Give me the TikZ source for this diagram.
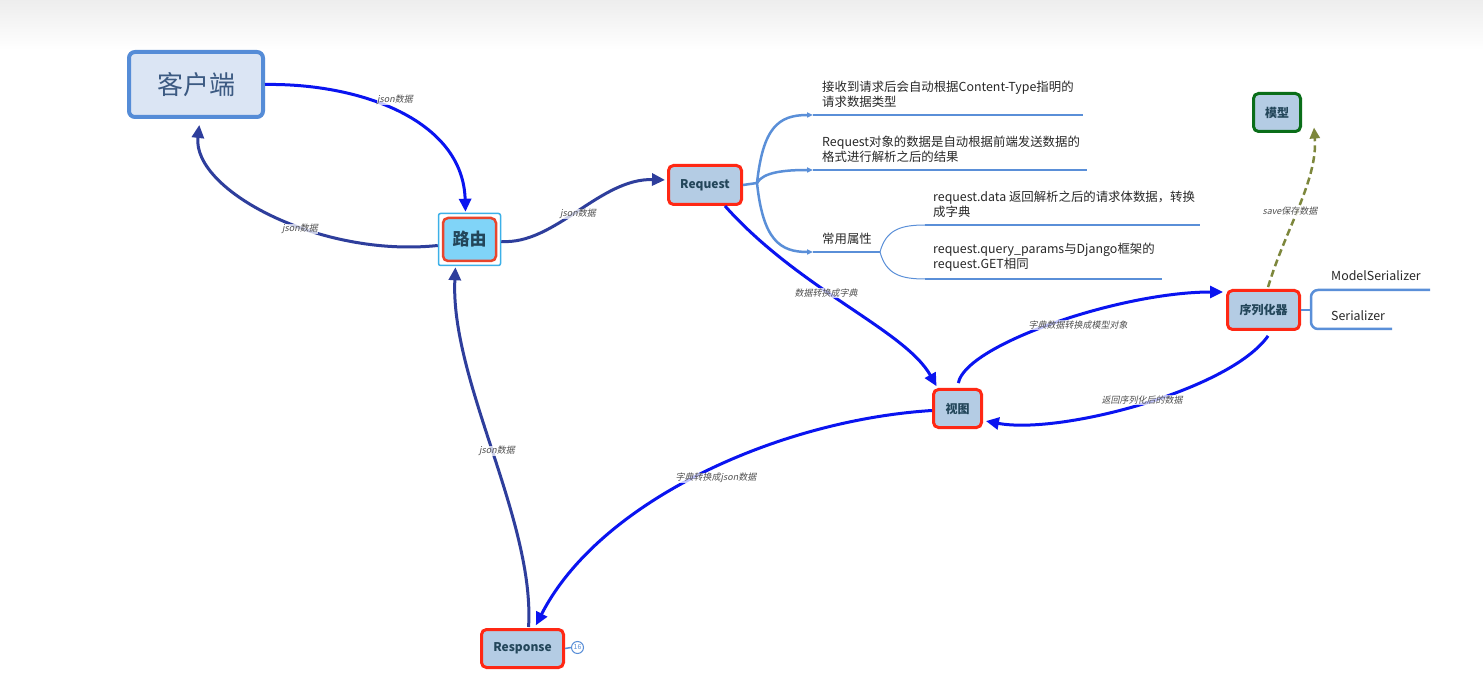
\documentclass[tikz,border=0pt]{standalone}
\usepackage{fontspec}
\setmainfont{Noto Sans CJK SC}
\newfontfamily\lblfont[FakeSlant=0.2]{Noto Sans CJK SC}
\usetikzlibrary{arrows.meta}
\definecolor{cblue}{RGB}{10,20,240}
\definecolor{cdark}{RGB}{46,62,156}
\definecolor{cbr}{RGB}{90,143,216}
\definecolor{cred}{RGB}{255,40,20}
\definecolor{cfill}{RGB}{180,204,228}
\definecolor{ctxt}{RGB}{35,70,90}
\definecolor{cgreen}{RGB}{10,110,25}
\definecolor{colive}{RGB}{125,135,60}
\definecolor{kfill}{RGB}{219,229,244}
\definecolor{kborder}{RGB}{85,140,215}
\definecolor{ktxt}{RGB}{60,90,130}
\definecolor{lfill}{RGB}{128,212,248}
\definecolor{lborder}{RGB}{60,176,232}
\definecolor{lred}{RGB}{232,69,44}
\definecolor{btxt}{RGB}{40,40,40}
\definecolor{lbltxt}{RGB}{80,80,80}
\tikzset{
  topic/.style={draw=cred, line width=3pt, fill=cfill, rounded corners=5pt, text=ctxt,
    font=\fontsize{12}{14}\selectfont\bfseries, inner sep=0pt},
  bigarrow/.style={line width=3pt, -{Triangle[length=13pt,width=12pt]}},
  blueline/.style={bigarrow, draw=cblue},
  darkline/.style={bigarrow, draw=cdark},
  elbl/.style={font=\lblfont\fontsize{9}{10}\selectfont, text=lbltxt, fill=white, fill opacity=0.75, text opacity=1, inner sep=0.5pt},
  branch/.style={draw=cbr, line width=2.5pt},
  thinbranch/.style={draw=cbr, line width=1pt},
  btext/.style={font=\fontsize{12.4}{15.5}\selectfont, text=btxt, align=left, anchor=south west, inner sep=0pt},
  smalltip/.style={-{Triangle[length=6pt,width=5pt]}}
}
\begin{document}
\begin{tikzpicture}[x=1pt,y=-1pt]
\useasboundingbox (0,0) rectangle (1483,692);
\fill[white] (0,0) rectangle (1483,692);
\shade[top color=black!7, bottom color=white] (0,0) rectangle (1483,50);

% nodes
\node[draw=kborder, line width=4pt, fill=kfill, rounded corners=6pt, minimum width=134pt, minimum height=65pt,
  text=ktxt, font=\fontsize{26}{28}\selectfont] (kh) at (196,84.5) {客户端};
\node[draw=lborder, line width=1.5pt, rounded corners=2pt, minimum width=62pt, minimum height=52pt] (ly) at (469.5,239.5) {};
\node[draw=lred, line width=2.5pt, fill=lfill, rounded corners=5pt, minimum width=53pt, minimum height=43pt,
  text=ctxt, font=\fontsize{17}{19}\selectfont\bfseries] (lyin) at (469.5,239.5) {路由};
\node[topic, minimum width=73pt, minimum height=39pt] (req) at (705,185) {Request};
\node[topic, minimum width=48pt, minimum height=38pt] (st) at (957.5,408.5) {视图};
\node[topic, minimum width=72pt, minimum height=39pt] (xlh) at (1263.5,310) {序列化器};
\node[topic, draw=cgreen, minimum width=47pt, minimum height=38pt] (mx) at (1277,112.5) {模型};
\node[topic, minimum width=82pt, minimum height=38pt] (resp) at (522.5,648.5) {Response};
\node[draw=cbr, line width=1pt, circle, minimum size=12pt, inner sep=0pt, text=cbr,
  font=\fontsize{7}{8}\selectfont] (badge) at (577.5,647.5) {16};
\draw[cbr, line width=1.5pt] (resp.east) -- (badge.west);

% connectors
\draw[blueline, shorten >=1pt] (kh.east) .. controls (360,83) and (463,120) .. ([xshift=-4pt]ly.north);
\node[elbl] (l1) at (395,100) {json数据};

\draw[darkline, shorten >=6pt] ([yshift=-6pt]ly.west) .. controls (320,258) and (192,190) .. ([xshift=4pt]kh.south);
\node[elbl] (l2) at (300,229) {json数据};

\draw[darkline, shorten >=2pt] ([yshift=-2pt]ly.east) .. controls (555,245) and (600,178) .. ([yshift=5pt]req.west);
\node[elbl] (l3) at (578,214) {json数据};

\draw[blueline, shorten >=2pt] ([xshift=20pt]req.south) .. controls (800,290) and (905,330) .. ([xshift=-20pt]st.north);
\node[elbl] (l4) at (826,293) {数据转换成字典};

\draw[blueline, shorten <=5pt, shorten >=3pt] (st.north) .. controls (965,345) and (1120,292) .. ([yshift=18pt]xlh.west);
\node[elbl] (l5) at (1078,325) {字典数据转换成模型对象};

\draw[blueline, shorten <=6pt, shorten >=3pt] ([xshift=8pt]xlh.south) .. controls (1230,390) and (1060,435) .. ([yshift=-12pt]st.east);
\node[elbl] (l6) at (1142,400) {返回序列化后的数据};

\draw[blueline, shorten >=3pt] ([yshift=-2pt]st.west) .. controls (780,420) and (600,500) .. ([xshift=12pt]resp.north);
\node[elbl] (l7) at (716,478) {字典转换成json数据};

\draw[darkline, shorten <=1pt, shorten >=1pt] ([xshift=6pt]resp.north) .. controls (535,520) and (450,380) .. ([xshift=-14pt]ly.south);
\node[elbl] (l8) at (497,451) {json数据};

\draw[colive, line width=2.5pt, dash pattern=on 7pt off 4pt, -{Triangle[length=11pt,width=10pt]}, shorten <=2pt]
  ([xshift=4pt]xlh.north) .. controls (1285,230) and (1318,180) .. ([xshift=12pt,yshift=-15pt]mx.east);
\node[elbl] (l9) at (1290,211) {save保存数据};

% mind-map branches from Request
\coordinate (rb) at (757,183);
\coordinate (b1) at (813,115);
\coordinate (b2) at (813,170);
\coordinate (b3) at (813,252);
\coordinate (b3e) at (880,252);
\draw[branch] (req.east) -- (rb);
\draw[branch, smalltip] (rb) .. controls (763,128) and (778,115) .. (b1);
\draw[branch] (b1) -- (1083,115);
\draw[branch, smalltip] (rb) .. controls (763,172) and (785,170) .. (b2);
\draw[branch] (b2) -- (1087,170);
\draw[branch, smalltip] (rb) .. controls (763,240) and (780,252) .. (b3);
\draw[branch] (b3) -- (b3e);
\node[btext] (t1) at (822,108) {接收到请求后会自动根据Content-Type指明的\\请求数据类型};
\node[btext] (t2) at (822,163) {Request对象的数据是自动根据前端发送数据的\\格式进行解析之后的结果};
\node[btext] (t3) at (822,245) {常用属性};

\coordinate (s1) at (925,225);
\coordinate (s2) at (925,279);
\draw[thinbranch] (b3e) .. controls (886,230) and (900,225) .. (s1);
\draw[thinbranch] (b3e) .. controls (886,274) and (900,279) .. (s2);
\draw[branch] (s1) -- (1200,225);
\draw[branch] (s2) -- (1162,279);
\node[btext] (t4) at (933,218) {request.data 返回解析之后的请求体数据，转换\\成字典};
\node[btext] (t5) at (933,272) {request.query\_params与Django框架的\\request.GET相同};

% serializer branches
\coordinate (xb) at (1311,310);
\draw[branch] (xlh.east) -- (xb);
\draw[branch, rounded corners=7pt] (1430,290) -- (1311,290) -- (1311,329) -- (1392,329);
\node[btext] (t6) at (1331,281) {ModelSerializer};
\node[btext] (t7) at (1331,321) {Serializer};
\end{tikzpicture}
\end{document}
